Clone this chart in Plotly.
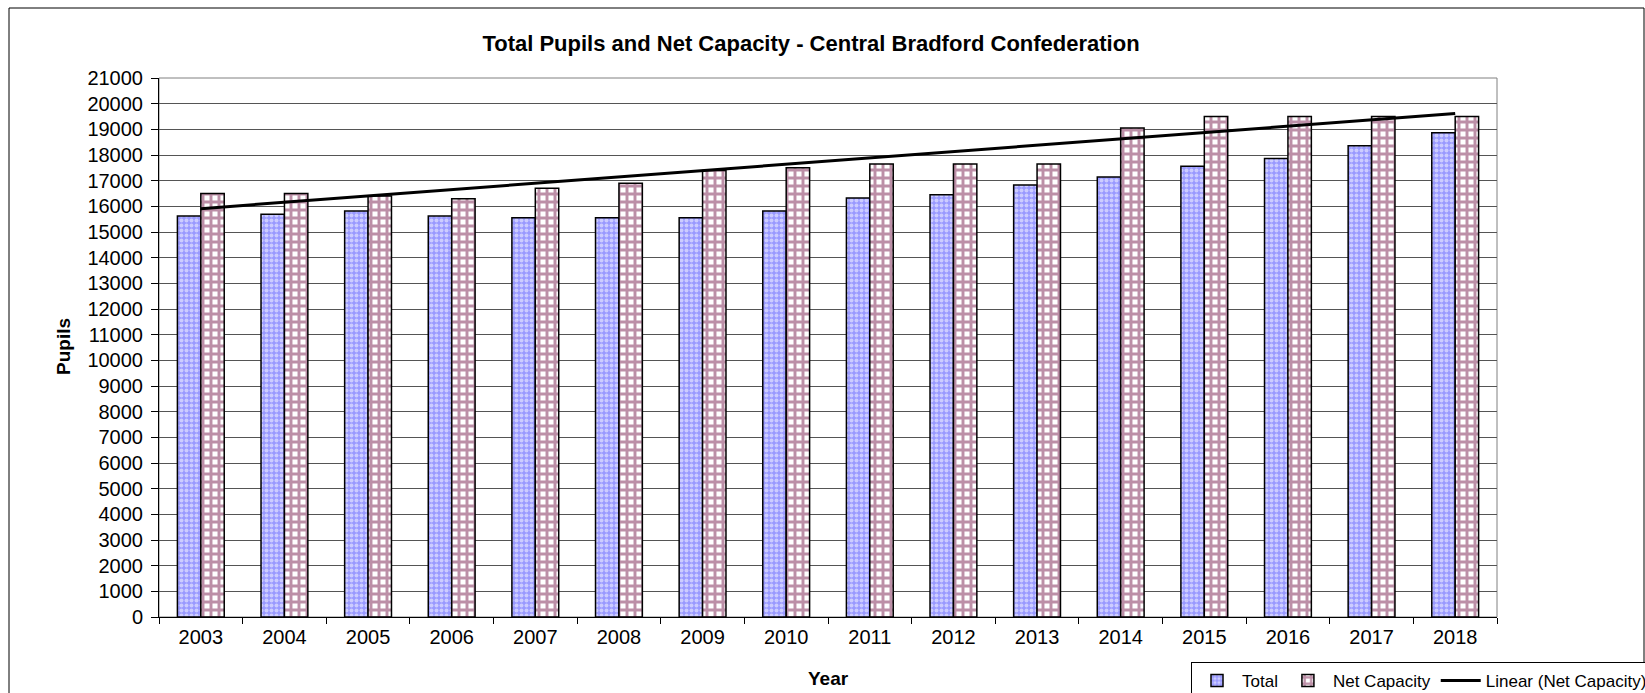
import numpy as np
import plotly.graph_objects as go

years = [str(y) for y in range(2003, 2019)]
total = [15620, 15690, 15820, 15620, 15560, 15560, 15560, 15820,
         16320, 16450, 16830, 17140, 17560, 17860, 18360, 18870]
net_capacity = [16500, 16500, 16400, 16300, 16700, 16900, 17400, 17500,
                17650, 17650, 17650, 19050, 19500, 19500, 19500, 19500]
y_ticks = list(range(0, 21001, 1000))

# linear trendline of net capacity (like Excel's "Linear (Net Capacity)")
xi = np.arange(len(years))
slope, intercept = np.polyfit(xi, net_capacity, 1)
trend = (slope * xi + intercept).tolist()

W, H = 1645, 693
L, R, T, B = 159, 1497, 78, 617

def px_x(p):
    return (p - L) / (R - L)

def px_y(p):
    return (B - p) / (B - T)

FONT = "Liberation Sans, Arial, sans-serif"

fig = go.Figure()
fig.add_trace(go.Bar(
    name="Total", x=years, y=total,
    marker=dict(color="#9999FF", line=dict(color="black", width=1.5),
                pattern=dict(shape=".", fgcolor="white", bgcolor="#9999FF",
                             size=5, solidity=0.5)),
))
fig.add_trace(go.Bar(
    name="Net Capacity", x=years, y=net_capacity,
    marker=dict(color="white", line=dict(color="black", width=1.5),
                pattern=dict(shape="+", fgcolor="#7A1F4F", bgcolor="white",
                             size=8, solidity=0.6)),
))
fig.add_trace(go.Scatter(
    name="Linear (Net Capacity)", x=years, y=trend, mode="lines",
    line=dict(color="black", width=3),
))

fig.update_layout(
    width=W, height=H,
    margin=dict(l=L, r=W - R, t=T, b=H - B, autoexpand=False),
    paper_bgcolor="white", plot_bgcolor="white",
    barmode="group", bargap=0.44, bargroupgap=0,
    font=dict(family=FONT, color="black", size=20),
    showlegend=True,
    title=dict(text="<b>Total Pupils and Net Capacity - Central Bradford Confederation</b>",
               x=811 / W, xref="container", xanchor="center", y=1 - 43 / H, yanchor="middle",
               font=dict(family=FONT, size=22)),
    legend=dict(orientation="h", xref="container", yref="container",
                x=1191 / W, xanchor="left", y=1 - 662 / H, yanchor="top",
                bordercolor="black", borderwidth=1, bgcolor="white",
                font=dict(size=17), tracegroupgap=0, itemwidth=40),
    xaxis=dict(type="category", showline=True, linecolor="black", linewidth=1,
               ticks="outside", ticklen=6, tickcolor="black", tickson="boundaries",
               showgrid=False, tickfont=dict(size=20), ticklabelstandoff=2,
               automargin=False),
    yaxis=dict(range=[0, 21000], tickvals=y_ticks, tickformat="d", showline=True,
               linecolor="black", linewidth=1, ticks="outside", ticklen=7,
               tickcolor="black", showgrid=True, gridcolor="#555555", gridwidth=1,
               zeroline=False, tickfont=dict(size=20), ticklabelstandoff=4,
               automargin=False),
    annotations=[
        dict(text="<b>Year</b>", xref="paper", yref="paper", x=px_x(828), y=px_y(678),
             xanchor="center", yanchor="middle", showarrow=False, font=dict(size=19)),
        dict(text="<b>Pupils</b>", xref="paper", yref="paper", x=px_x(63), y=px_y(347),
             xanchor="center", yanchor="middle", showarrow=False, textangle=-90,
             font=dict(size=19)),
    ],
    shapes=[
        dict(type="rect", xref="paper", yref="paper", x0=0, x1=1, y0=0, y1=1,
             line=dict(color="#808080", width=1), layer="below"),
        dict(type="rect", xref="paper", yref="paper",
             x0=px_x(9), x1=px_x(1644), y0=px_y(705), y1=px_y(8),
             line=dict(color="black", width=1)),
    ],
)

fig.write_html("out.html", config={"displayModeBar": False},
               post_script="document.body.style.margin='0';document.body.style.overflow='hidden';")
